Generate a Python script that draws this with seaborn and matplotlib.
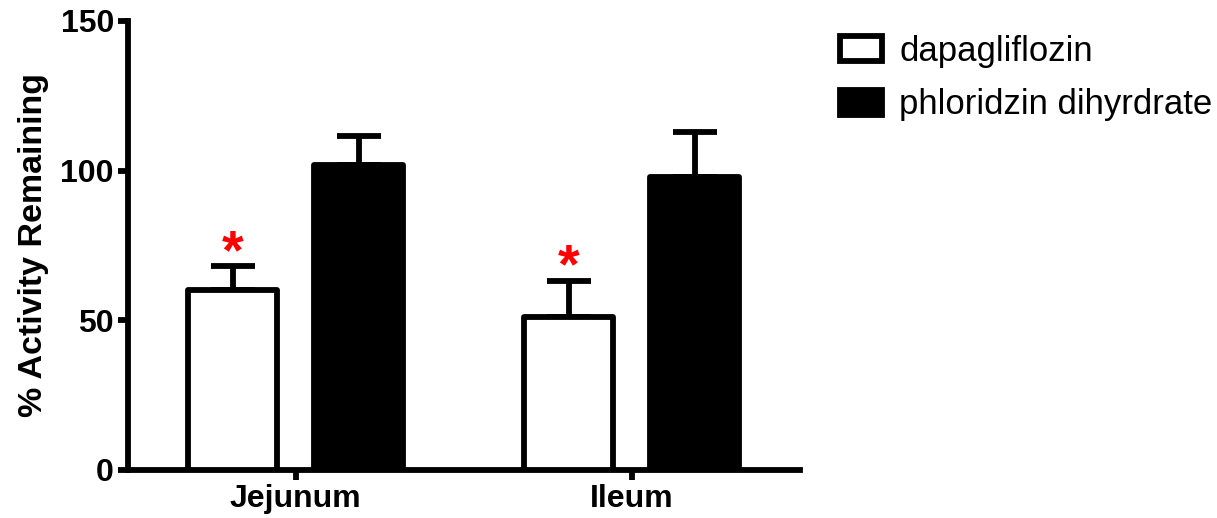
import pandas as pd
import seaborn as sns
import numpy as np
import matplotlib.pyplot as plt
from matplotlib.patches import Patch

sns.set_style('white')
plt.rcParams['font.family'] = ['Liberation Sans', 'DejaVu Sans']
plt.rcParams['text.color'] = 'black'
plt.rcParams['axes.labelcolor'] = 'black'
plt.rcParams['xtick.color'] = 'black'
plt.rcParams['ytick.color'] = 'black'

regions = ['Jejunum', 'Ileum']
drugs = ['dapagliflozin', 'phloridzin dihyrdrate']
means = {'dapagliflozin': [60, 51], 'phloridzin dihyrdrate': [102, 98]}
errs = {'dapagliflozin': [8, 12], 'phloridzin dihyrdrate': [9.5, 15]}
signif = {'dapagliflozin': [True, True], 'phloridzin dihyrdrate': [False, False]}

rows = []
for d in drugs:
    for i, r in enumerate(regions):
        rows.append({'region': r, 'drug': d, 'value': means[d][i],
                     'err': errs[d][i], 'star': signif[d][i]})
df = pd.DataFrame(rows)

fig = plt.figure(figsize=(12.17, 5.18), dpi=100)
ax = fig.add_axes([0.105, 0.0927, 0.552, 0.867])

lw = 4.2
pal = {'dapagliflozin': 'white', 'phloridzin dihyrdrate': 'black'}
sns.barplot(data=df, x='region', y='value', hue='drug', order=regions,
            hue_order=drugs, palette=pal, width=0.75, gap=0.29,
            edgecolor='black', linewidth=lw, errorbar=None,
            legend=False, ax=ax, zorder=3)

for p in ax.patches:
    p.set_joinstyle('round')

# error bars (upper only) + asterisks, placed on the bars seaborn drew
for j, d in enumerate(drugs):
    cont = ax.containers[j]
    for i, bar in enumerate(cont):
        x = bar.get_x() + bar.get_width() / 2
        y = means[d][i]
        e = errs[d][i]
        ax.errorbar(x, y, yerr=[[0], [e]], fmt='none', ecolor='black',
                    elinewidth=lw, capsize=16, capthick=lw, zorder=2)
        if signif[d][i]:
            ax.annotate('*', (x, y + e), xytext=(0, -1), textcoords='offset points',
                        ha='center', va='baseline', color='red',
                        fontsize=40, fontweight='bold')

ax.set_ylim(0, 150)
ax.set_xlim(-0.5, 1.5)
ax.set_yticks([0, 50, 100, 150])
ax.set_xlabel('')
ax.set_ylabel('% Activity Remaining', fontsize=24.5, fontweight='bold', labelpad=8)
sns.despine(ax=ax)
for s in ['left', 'bottom']:
    ax.spines[s].set_linewidth(lw)
    ax.spines[s].set_color('black')
ax.tick_params(axis='both', direction='out', length=7, width=lw,
               labelsize=23, left=True, bottom=True, pad=3)
for lab in ax.get_xticklabels() + ax.get_yticklabels():
    lab.set_fontweight('bold')

handles = [Patch(facecolor=pal[d], edgecolor='black', linewidth=lw, label=d)
           for d in drugs]
fig.legend(handles=handles, loc='upper left', bbox_to_anchor=(0.679, 0.96),
           frameon=False, fontsize=25, handlelength=1.2, handleheight=0.75,
           handletextpad=0.5, labelspacing=0.6, borderaxespad=0)

fig.savefig('out.png', dpi=100)
